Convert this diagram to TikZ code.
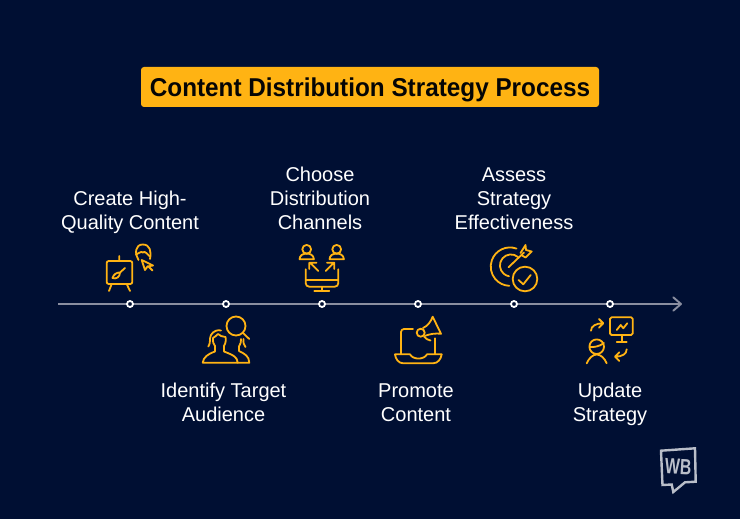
\documentclass[tikz,border=0pt]{standalone}
\usepackage{fontspec}
\setmainfont{Liberation Sans}
\definecolor{bgnavy}{HTML}{000F33}
\definecolor{gold}{HTML}{FFB313}
\definecolor{axisgrey}{HTML}{8A8EA0}
\definecolor{logogrey}{HTML}{B9BEC9}
\definecolor{titleink}{HTML}{050505}
\tikzset{
  ico/.style={draw=gold,line width=1.8pt,line cap=round,line join=round,fill=none},
  dotmark/.style={circle,draw=white,fill=bgnavy,line width=1.8pt,minimum size=6pt,inner sep=0pt},
  lbl/.style={text=white,font=\fontsize{20}{24}\selectfont,align=center,inner sep=0pt},
  axisline/.style={draw=axisgrey,line width=1.7pt}
}
\begin{document}
\begin{tikzpicture}[x=1pt,y=-1pt]
\useasboundingbox (0,0) rectangle (740,519);
\fill[bgnavy] (0,0) rectangle (740,519);
% title
\node[fill=gold,rounded corners=3pt,minimum width=458pt,minimum height=40pt,inner sep=0pt,text height=18.5pt,text depth=0pt,font=\bfseries\fontsize{25.8}{30}\selectfont,text=titleink] (title) at (370,87) {\scalebox{0.942}[1]{Content Distribution Strategy Process}};
% axis
\coordinate (axstart) at (58,304);
\coordinate (axend) at (681,304);
\draw[axisline] (axstart) -- (axend);
\draw[axisline,line cap=round,line join=round,line width=1.9pt] (673.3,297.3) -- (axend) -- (673.3,310.7);
\foreach \n/\x in {a/130,b/226,c/322,d/418,e/514,f/610}
  \node[dotmark] (\n) at (\x,304) {};
% labels
\node[lbl] (la) at (130,213) {\strut Create High-\\\strut Quality Content};
\node[lbl] (lb) at (223.5,405) {\strut Identify Target\\\strut Audience};
\node[lbl] (lc) at (320,201) {\strut Choose\\\strut Distribution\\\strut Channels};
\node[lbl] (ld) at (416,405) {\strut Promote\\\strut Content};
\node[lbl] (le) at (514,201) {\strut Assess\\\strut Strategy\\\strut Effectiveness};
\node[lbl] (lf) at (610,405) {\strut Update\\\strut Strategy};
% icon 1: easel
\draw[ico,rounded corners=2pt] (106.7,261) rectangle (132.3,284);
\draw[ico] (119.3,256) -- (119.3,261) (111.7,284) -- (109,291) (126.7,284) -- (130,291);
\draw[ico] (125,268) -- (120,272.5) .. controls (117,272) and (113,275) .. (112.5,278) .. controls (116,279.5) and (120,277) .. (120,272.5);
\draw[ico] (138.5,260) .. controls (134.5,254) and (135,244.5) .. (142.7,244.5) .. controls (150,244.5) and (151.5,251) .. (150,259);
\draw[ico] (136,254.5) .. controls (139,254) and (141,250.5) .. (142.7,252.5) .. controls (145,250.5) and (147,254) .. (150,256.5);
\draw[ico] (141.7,260) -- (153,265.5) -- (147.5,266.5) -- (145,270) -- cycle (148,266) -- (152.5,270.5);
% icon 2: audience
\draw[ico] (236,326) circle (9.5);
\draw[ico] (243,333) -- (249.3,339);
\draw[ico] (202.7,362.7) -- (237.7,362.7) .. controls (237.5,357) and (233,355) .. (224,351.5) -- (224,346) .. controls (226,343) and (226,339) .. (225.5,337) .. controls (222,337) and (220,335.5) .. (218,334) .. controls (216,336.5) and (214,337) .. (213,338) .. controls (213,342) and (213,344) .. (215,346) -- (215,351.5) .. controls (208,354) and (203.5,357) .. (202.7,362.7);
\draw[ico] (208.3,346.5) .. controls (211,343) and (209,339) .. (211,335) .. controls (213,331) and (218,329.5) .. (221,330.5);
\draw[ico] (237.7,362.7) -- (249.3,362.7) .. controls (249,356) and (245,354) .. (239,351) -- (239,346.5) .. controls (241,344) and (241,341) .. (241,339);
\draw[ico] (243.5,339) .. controls (243,343) and (244,345) .. (245.5,347);
% icon 3: channels
\foreach \hx in {306.7,336.7}{
  \draw[ico] (\hx,249.3) circle (4.4);
  \draw[ico] (\hx-7.2,259.3) -- (\hx+7.2,259.3) .. controls (\hx+7,255) and (\hx+3.5,253.6) .. (\hx,253.6) .. controls (\hx-3.5,253.6) and (\hx-7,255) .. (\hx-7.2,259.3);
}
\draw[ico] (318.3,271) -- (310,262.7) (309.3,269) -- (309.3,262.7) -- (316.5,262.7);
\draw[ico] (325.7,271) -- (334,262.7) (327,262.7) -- (334.3,262.7) -- (334.3,269);
\draw[ico,rounded corners=3.5pt] (305.7,269.3) -- (305.7,286.7) -- (338.3,286.7) -- (338.3,269.3);
\draw[ico] (305.7,280) -- (338.3,280) (321.7,286.7) -- (321.7,291) (314.3,291) -- (329.3,291);
% icon 4: promote
\draw[ico,rounded corners=3pt] (401,354.3) -- (401,329) -- (413,329);
\draw[ico] (435,338.3) -- (435,354.3);
\draw[ico] (395,354.3) -- (410,354.3) .. controls (413,360) and (424,360) .. (427,354.3) -- (441.7,354.3) .. controls (441,359) and (438,363.3) .. (433,363.3) -- (403.3,363.3) .. controls (398.5,363.3) and (395.5,359) .. (395,354.3);
\draw[ico] (423,328) .. controls (428,326) and (431,321) .. (432.7,316.7) -- (441,333.8) .. controls (436,333) and (430,334) .. (425,335.8);
\draw[ico] (420.7,332.7) circle (4);
\draw[ico] (424,336.5) .. controls (426,339) and (428,340) .. (430.5,340.5);
% icon 5: assess
\draw[ico] (516.5,248.6) arc[start angle=-70,end angle=-268,radius=19.2];
\draw[ico] (518,257) arc[start angle=-50,end angle=-260,radius=11];
\draw[ico] (508.5,267.3) -- (524,252.5);
\draw[ico] (520.5,253) -- (525.5,245) -- (526,250) -- (531.7,251.5) -- (525.5,257.5) -- (522,255.5);
\draw[ico] (525,279) circle (12.3);
\draw[ico] (518.5,280) -- (523.3,284.3) -- (530.7,275);
% icon 6: update
\draw[ico,rounded corners=1.5pt] (610,317.3) rectangle (632.7,335);
\draw[ico] (621.7,335) -- (621.7,341.7) (616.7,341.7) -- (626.7,341.7);
\draw[ico] (616.7,330) -- (620.7,325) -- (623.3,328.3) -- (627.3,323.3);
\draw[ico] (591,330.7) .. controls (591,326) and (596,323.3) .. (603,323.3) (599,319) -- (603.3,323.3) -- (599,327.7);
\draw[ico] (626.7,349.3) .. controls (626.7,354) and (622,356.7) .. (615.2,356.7) (619.3,352.3) -- (615,356.7) -- (619.3,361);
\draw[ico] (596.7,346.7) circle (7.3);
\draw[ico] (589.7,347) .. controls (593,347.5) and (600,346.5) .. (603.8,343);
\draw[ico] (586.7,363.3) .. controls (589,358) and (593,354.5) .. (596.7,354.5) .. controls (600.5,354.5) and (604.5,358) .. (606.7,363.3);
% logo
\draw[logogrey,line width=2.4pt,line join=miter] (661,450.7) -- (695,448.3) -- (695.7,481.7) -- (685,482.3) -- (673.3,492) -- (671.7,484.5) -- (662.5,485) -- cycle;
\node[text=logogrey,font=\bfseries\fontsize{22}{22}\selectfont,inner sep=0pt,rotate=-3,xscale=0.72] (logo) at (678.3,467) {WB};
\end{tikzpicture}
\end{document}
